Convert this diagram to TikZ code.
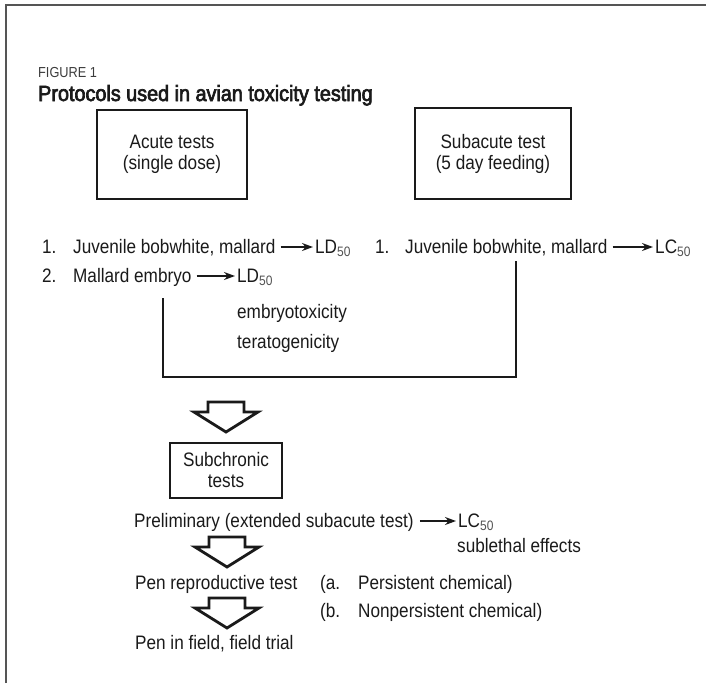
\documentclass[tikz,border=0pt]{standalone}
\usepackage{fontspec}
\setmainfont{Liberation Sans}[FakeStretch=0.88]
\newfontfamily\titlefont{Liberation Sans}[FakeStretch=0.9,FakeBold=3]
\usetikzlibrary{arrows.meta,calc}
\definecolor{ink}{HTML}{1A1A1A}
\definecolor{framec}{HTML}{555555}
\newcommand\subfifty{\textsubscript{\textcolor{ink!75}{50}}}
\begin{document}
\begin{tikzpicture}[x=1pt,y=-1pt,
  txt/.style={anchor=base west, inner sep=0pt, font=\fontsize{19.5}{22}\selectfont, text=ink},
  figlabel/.style={anchor=base west, inner sep=0pt, font=\fontsize{14.5}{16}\selectfont, text=ink!85},
  titletxt/.style={anchor=base west, inner sep=0pt, font=\titlefont\fontsize{22}{24}\selectfont, text=ink},
  boxtxt/.style={align=center, font=\fontsize{19.5}{21}\selectfont, text=ink},
  tbox/.style={draw=ink, line width=1.6pt},
  res/.style={-{Stealth[length=11pt,width=8pt]}, line width=1.6pt, draw=ink},
  brk/.style={draw=ink, line width=1.4pt},
  blockarr/.pic={\draw[draw=ink, line width=2.8pt, fill=white, line join=miter]
     (-18,0) -- (18,0) -- (18,10) -- (32,10) -- (0,30) -- (-32,10) -- (-18,10) -- cycle;}]

\useasboundingbox (0,0) rectangle (706,683);
\draw[framec, line width=2pt] (6,683) -- (6,5) -- (706,5);

% title
\node[figlabel] (fig) at (38,77) {FIGURE 1};
\node[titletxt] (title) at (38,101) {Protocols used in avian toxicity testing};

% top boxes
\node[tbox, boxtxt, minimum width=150pt, minimum height=89pt] (acute) at (172,154.5) {Acute tests\\(single dose)};
\node[tbox, boxtxt, minimum width=156pt, minimum height=91pt] (subacute) at (493,153.5) {Subacute test\\(5 day feeding)};

% line 1 left
\node[txt] (n1a) at (42,253) {1.};
\node[txt] (j1a) at (73,253) {Juvenile bobwhite, mallard};
\node[txt] (ld1) at (315,253) {LD\subfifty};
\draw[res] ($(j1a.base east)+(5,-6)$) -- ($(ld1.base west)+(-2,-6)$);

% line 1 right
\node[txt] (n1b) at (375,253) {1.};
\node[txt] (j1b) at (405,253) {Juvenile bobwhite, mallard};
\node[txt] (lc1) at (655,253) {LC\subfifty};
\draw[res] ($(j1b.base east)+(5,-6)$) -- ($(lc1.base west)+(-2,-6)$);

% line 2
\node[txt] (n2) at (42,282) {2.};
\node[txt] (me) at (73,282) {Mallard embryo};
\node[txt] (ld2) at (237,282) {LD\subfifty};
\draw[res] ($(me.base east)+(5,-6)$) -- ($(ld2.base west)+(-2,-6)$);
\node[txt] (emb) at (237,318) {embryotoxicity};
\node[txt] (ter) at (237,348) {teratogenicity};

% bracket
\coordinate (bl) at (163,298);
\coordinate (br) at (516,261);
\coordinate (bb) at (516,377);
\draw[brk] (bl) |- (bb) -- (br);

% block arrow 1 and subchronic box
\pic at (226,402) {blockarr};
\node[tbox, boxtxt, minimum width=112pt, minimum height=55pt] (subchr) at (226,470.5) {Subchronic\\tests};

% preliminary
\node[txt] (pre) at (134,527) {Preliminary (extended subacute test)};
\node[txt] (lc2) at (458,527) {LC\subfifty};
\draw[res] ($(pre.base east)+(6,-6)$) -- ($(lc2.base west)+(-2,-6)$);
\node[txt] (sub) at (457,552) {sublethal effects};

\pic at (227,537) {blockarr};

% pen reproductive
\node[txt] (pen) at (135,589) {Pen reproductive test};
\node[txt] (pa) at (320,589) {(a.};
\node[txt] (pat) at (358,589) {Persistent chemical)};
\node[txt] (pb) at (320,617) {(b.};
\node[txt] (pbt) at (358,617) {Nonpersistent chemical)};

\pic at (227,598) {blockarr};

\node[txt] (field) at (135,649) {Pen in field, field trial};
\end{tikzpicture}
\end{document}
